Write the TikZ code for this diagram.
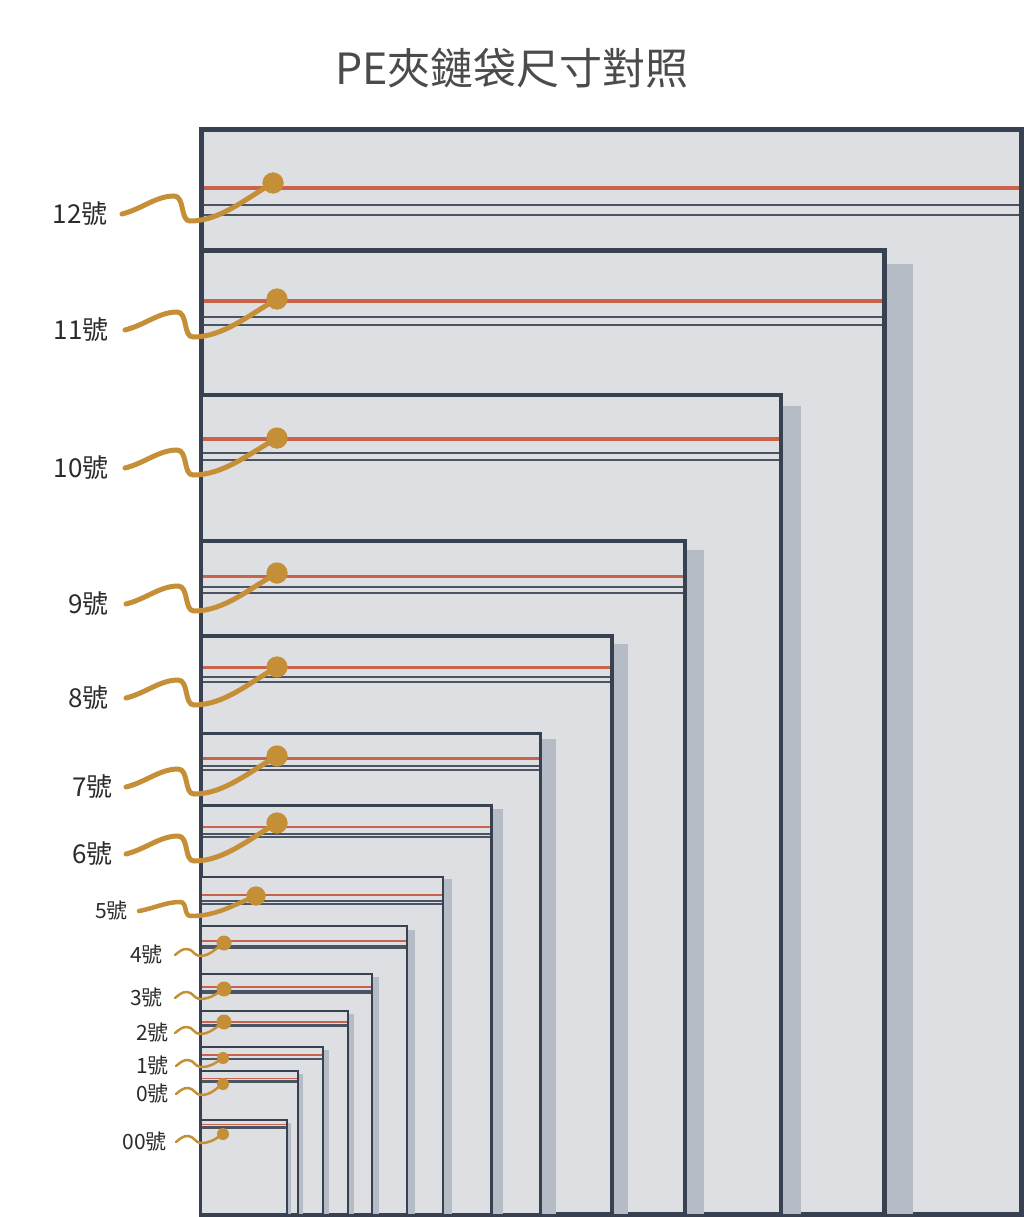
\documentclass[tikz,border=0pt]{standalone}
\usepackage{fontspec}
\setmainfont{Noto Sans CJK TC}
\usetikzlibrary{calc}
\definecolor{bagfill}{HTML}{DEDFE3}
\definecolor{bagedge}{HTML}{37414F}
\definecolor{bagshadow}{HTML}{B6BCC6}
\definecolor{zipred}{HTML}{C9634B}
\definecolor{gold}{HTML}{C48F36}
\definecolor{grayline}{HTML}{4B5462}
\definecolor{txt}{HTML}{2B2B2B}
\begin{document}
\begin{tikzpicture}[x=1pt,y=-1pt,
  bagline/.style={draw=bagedge,line join=miter},
  wavey/.style={draw=gold,line cap=round},
  golddot/.style={circle,fill=gold,inner sep=0pt},
  lbl/.style={text=txt,inner ysep=0pt,anchor=east},
  biglbl/.style={lbl,font=\fontsize{26}{26}\selectfont},
  smalllbl/.style={lbl,font=\fontsize{21}{21}\selectfont}]
\useasboundingbox (0,0) rectangle (1024,1217);
\node[text=txt!85,font=\fontsize{43}{43}\selectfont] (title) at (512,68) {PE夾鏈袋尺寸對照};
% bags: name/top/right/border/shadow w/shadow top offset/red y/gray1/gray2/red w/gray w
\foreach \n/\t/\r/\bw/\sw/\st/\ry/\ga/\gb/\rw/\gw in {
  12/130/1021/5/0/0/188/205/215/3.5/2,
  11/250/884/5/26/14/301/317/325/3.5/2,
  10/395/781/4.5/18/11/439/453/460/3.5/2,
  9/541/685/4/17/9/576/587/593/3/2,
  8/636/612/3.5/14/8/667/677/682/3/1.8,
  7/733/540/3/14/6/758/766/770/3/1.5,
  6/805/491/3/10/4/827/834/837/2.5/1.5,
  5/877/443/2.5/8/2/895/901/904/2/1.5,
  4/926/407/2.5/7/4/941/946/948/2/1.5,
  3/974/372/2.5/6/3/987/991/993/2/1.5,
  2/1011/348/2.5/5/3/1022/1025/1026/2/1.5,
  1/1047/323/2.5/5/3/1055/1058.5/1059.5/1.5/1.5,
  0/1071/298/2.5/4/3/1078.5/1081/1082/1.5/1.5,
  00/1120/287/2.5/3/3/1124.5/1127/1128/1.5/1.5}{
  \fill[bagshadow] (\r+\bw/2,\t+\st) rectangle (\r+\bw/2+\sw,1214);
  \fill[bagfill] (201,\t) rectangle (\r,1214);
  \draw[zipred,line width=\rw] (201,\ry) -- (\r,\ry);
  \draw[grayline,line width=\gw] (201,\ga) -- (\r,\ga);
  \draw[grayline,line width=\gw] (201,\gb) -- (\r,\gb);
  \draw[bagline,line width=\bw] (201,\t) rectangle (\r,1214);
}
% large labels and waves
\foreach \n/\sx/\sy/\dx/\dy/\g in {
  12/122/214/273/183/14,
  11/125/330/277/299/16,
  10/125/468/277/438/16,
  9/126/604/277/573/17,
  8/126/698/277/667/17,
  7/126/787/277/756/13,
  6/126/854/277/823/13}{
  \node[biglbl,inner xsep=\g] (l\n) at (\sx,\sy) {{\n}號};
  \node[golddot,minimum size=21] (d\n) at (\dx,\dy) {};
  \draw[wavey,line width=5] (l\n.east) .. controls +(20,-5) and +(-18,0) .. ++(52,-18)
     .. controls +(11,0) and +(-10,0) .. ++(16,25)
     .. controls +(30,0) and +(-28,16) .. (d\n.center);
  \node[golddot,minimum size=21] at (d\n) {};
}
% medium
\foreach \n/\sx/\sy/\dx/\dy/\g in {5/139/911/256/896/11}{
  \node[smalllbl,inner xsep=\g] (l\n) at (\sx,\sy) {{\n}號};
  \node[golddot,minimum size=19] (d\n) at (\dx,\dy) {};
  \draw[wavey,line width=4.5] (l\n.east) .. controls +(16,-3) and +(-14,0) .. ++(41,-9)
     .. controls +(8,0) and +(-8,0) .. ++(11,14)
     .. controls +(25,0) and +(-25,10) .. (d\n.center);
  \node[golddot,minimum size=19] at (d\n) {};
}
% small
\foreach \n/\sx/\sy/\dx/\dy/\r/\g in {
  4/175/955/224/943/15/12,
  3/175/998/224/989/15/12,
  2/175/1033/224/1022/15/6,
  1/176/1066/223/1058/12/7,
  0/176/1094/223/1084/12/7,
  00/176/1142/223/1134/12/9}{
  \node[smalllbl,inner xsep=\g] (l\n) at (\sx,\sy) {{\n}號};
  \node[golddot,minimum size=\r] (d\n) at (\dx,\dy) {};
  \draw[wavey,line width=2.5] (l\n.east) .. controls +(5,-4) and +(-5,0) .. ++(12,-6)
     .. controls +(6,0) and +(-6,0) .. ++(13,7)
     .. controls +(10,0) and +(-8,5) .. (d\n.center);
}
\end{tikzpicture}
\end{document}
